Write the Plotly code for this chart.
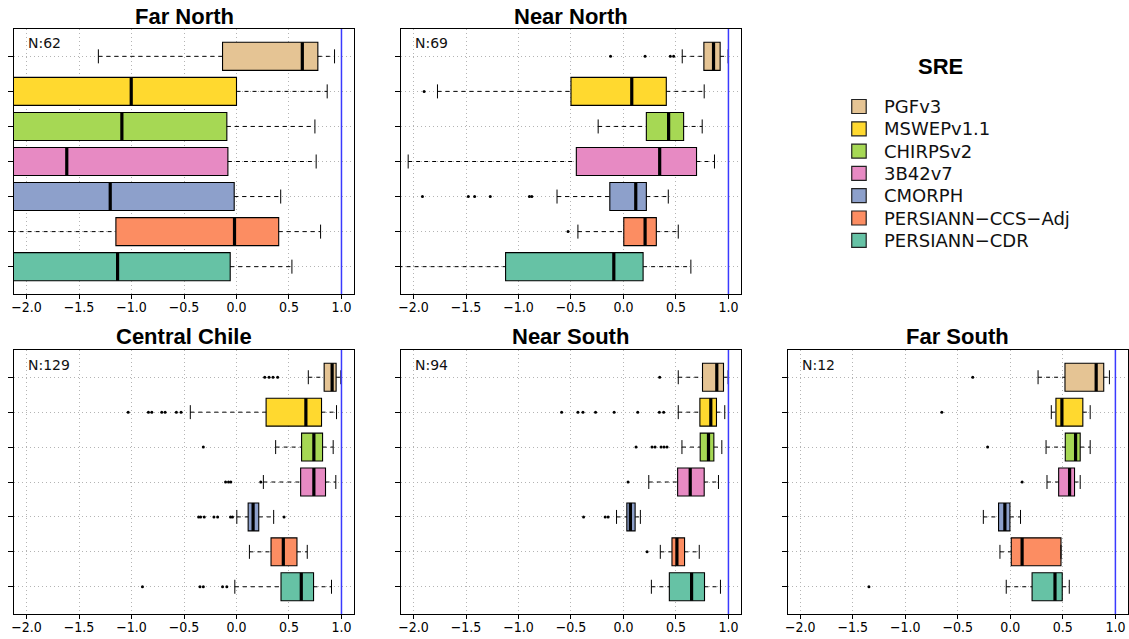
import plotly.graph_objects as go

products = ["PGFv3", "MSWEPv1.1", "CHIRPSv2", "3B42v7", "CMORPH",
            "PERSIANN\u2212CCS\u2212Adj", "PERSIANN\u2212CDR"]
colors = ["#E5C494", "#FFD92F", "#A6D854", "#E78AC3", "#8DA0CB", "#FC8D62", "#66C2A5"]
positions = [7, 6, 5, 4, 3, 2, 1]

regions = ["Far North", "Near North", "Central Chile", "Near South", "Far South"]
counts = [62, 69, 129, 94, 12]

# whisker low, q1, median, q3, whisker high per product (order as products)
far_north_lo = [-1.316, -3.0, -3.0, -3.0, -3.0, -2.6, -3.0]
far_north_q1 = [-0.133, -2.4, -2.4, -2.4, -2.4, -1.149, -2.4]
far_north_med = [0.627, -1.003, -1.092, -1.617, -1.203, -0.019, -1.133]
far_north_q3 = [0.775, 0.0, -0.092, -0.082, -0.022, 0.402, -0.060]
far_north_hi = [0.934, 0.864, 0.747, 0.759, 0.421, 0.801, 0.528]
far_north_out = [[], [], [], [], [], [], []]

near_north_lo = [0.560, -1.772, -0.241, -2.051, -0.633, -0.434, -2.6]
near_north_q1 = [0.766, -0.500, 0.218, -0.449, -0.130, 0.003, -1.123]
near_north_med = [0.858, 0.079, 0.430, 0.345, 0.117, 0.206, -0.092]
near_north_q3 = [0.921, 0.408, 0.573, 0.696, 0.218, 0.313, 0.187]
near_north_hi = [0.997, 0.769, 0.750, 0.867, 0.427, 0.522, 0.642]
near_north_out = [[-0.123, 0.206, 0.446, 0.478], [-1.899], [], [],
                  [-1.915, -1.478, -1.418, -1.269, -0.896, -0.873], [-0.528], []]

central_lo = [0.684, -0.440, 0.373, 0.256, 0.003, 0.123, -0.016]
central_q1 = [0.835, 0.282, 0.620, 0.611, 0.111, 0.329, 0.424]
central_med = [0.911, 0.661, 0.737, 0.737, 0.158, 0.446, 0.617]
central_q3 = [0.949, 0.810, 0.820, 0.848, 0.212, 0.576, 0.734]
central_hi = [0.994, 0.953, 0.921, 0.946, 0.354, 0.674, 0.905]
central_out = [[0.269, 0.310, 0.348, 0.392],
               [-1.032, -0.839, -0.807, -0.712, -0.680, -0.573, -0.528],
               [-0.316],
               [-0.104, -0.076, -0.054, 0.231],
               [-0.361, -0.342, -0.307, -0.215, -0.180, -0.057, -0.038, 0.453],
               [],
               [-0.896, -0.348, -0.316, -0.133, -0.092]]

near_south_lo = [0.522, 0.522, 0.557, 0.241, -0.066, 0.351, 0.266]
near_south_q1 = [0.753, 0.728, 0.731, 0.516, 0.032, 0.462, 0.437]
near_south_med = [0.889, 0.832, 0.810, 0.636, 0.066, 0.509, 0.649]
near_south_q3 = [0.953, 0.886, 0.861, 0.769, 0.111, 0.582, 0.772]
near_south_hi = [0.997, 0.965, 0.937, 0.905, 0.161, 0.722, 0.924]
near_south_out = [[0.345],
                  [-0.589, -0.434, -0.386, -0.266, -0.089, 0.136, 0.342, 0.383],
                  [0.120, 0.272, 0.301, 0.358, 0.386, 0.415],
                  [0.044],
                  [-0.380, -0.174, -0.146],
                  [0.225],
                  []]

far_south_lo = [0.264, 0.390, 0.340, 0.349, -0.257, -0.099, -0.039]
far_south_q1 = [0.520, 0.434, 0.523, 0.460, -0.112, 0.009, 0.207]
far_south_med = [0.817, 0.491, 0.621, 0.564, -0.052, 0.112, 0.425]
far_south_q3 = [0.889, 0.690, 0.665, 0.611, -0.004, 0.482, 0.494]
far_south_hi = [0.943, 0.760, 0.760, 0.665, 0.097, 0.482, 0.561]
far_south_out = [[-0.358], [-0.652], [-0.216], [0.112], [], [], [-1.346]]

stats = [
    (far_north_lo, far_north_q1, far_north_med, far_north_q3, far_north_hi, far_north_out),
    (near_north_lo, near_north_q1, near_north_med, near_north_q3, near_north_hi, near_north_out),
    (central_lo, central_q1, central_med, central_q3, central_hi, central_out),
    (near_south_lo, near_south_q1, near_south_med, near_south_q3, near_south_hi, near_south_out),
    (far_south_lo, far_south_q1, far_south_med, far_south_q3, far_south_hi, far_south_out),
]

x_ticks = [-2.0, -1.5, -1.0, -0.5, 0.0, 0.5, 1.0]
reference_value = 1.0

W, H = 1129, 639
# panel pixel boxes (left, right, top, bottom)
panels = [(11, 352, 29, 294), (399, 740, 29, 294),
          (11, 352, 350, 614), (399, 740, 350, 614), (786.7, 1128, 350, 614)]

BOX_H = 0.8
STAPLE = 0.4

fig = go.Figure()
tick_font = dict(family="DejaVu Sans Condensed, DejaVu Sans", size=14, color="black")
grid_style = dict(showgrid=True, gridcolor="#b4b4b4", griddash="1px,3px", gridwidth=1)

annotations = []
shapes = []
for i, (name, n, st, pb) in enumerate(zip(regions, counts, stats, panels)):
    ax = "" if i == 0 else str(i + 1)
    xa, ya = "x" + ax, "y" + ax
    lo, q1, med, q3, hi, out = st

    fig.add_trace(go.Bar(
        y=positions, x=[b - a for a, b in zip(q1, q3)], base=q1, orientation="h",
        width=BOX_H, marker=dict(color=colors, line=dict(color="black", width=1.1)),
        xaxis=xa, yaxis=ya, showlegend=False, hoverinfo="skip"))

    wx, wy, sx, sy, mx, my, ox, oy = [], [], [], [], [], [], [], []
    for p, l, a, m, b, h, o in zip(positions, lo, q1, med, q3, hi, out):
        wx += [l, a, None, b, h, None]
        wy += [p, p, None, p, p, None]
        sx += [l, l, None, h, h, None]
        sy += [p - STAPLE / 2, p + STAPLE / 2, None, p - STAPLE / 2, p + STAPLE / 2, None]
        mx += [m, m, None]
        my += [p - BOX_H / 2, p + BOX_H / 2, None]
        ox += o
        oy += [p] * len(o)

    fig.add_trace(go.Scatter(x=wx, y=wy, mode="lines", xaxis=xa, yaxis=ya,
                             line=dict(color="black", width=1, dash="4px,4px"),
                             showlegend=False, hoverinfo="skip"))
    fig.add_trace(go.Scatter(x=sx, y=sy, mode="lines", xaxis=xa, yaxis=ya,
                             line=dict(color="black", width=1),
                             showlegend=False, hoverinfo="skip"))
    fig.add_trace(go.Scatter(x=mx, y=my, mode="lines", xaxis=xa, yaxis=ya,
                             line=dict(color="black", width=3.2),
                             showlegend=False, hoverinfo="skip"))
    fig.add_trace(go.Scatter(x=ox, y=oy, mode="markers", xaxis=xa, yaxis=ya,
                             marker=dict(color="black", size=3),
                             showlegend=False, hoverinfo="skip"))

    l, r, t, b = pb
    fig.layout["xaxis" + ax] = dict(
        domain=[l / W, r / W], anchor=ya, range=[-2.12, 1.12],
        tickvals=x_ticks, tickformat=".1f", ticks="outside", ticklen=4,
        tickcolor="black", tickfont=tick_font, ticklabelstandoff=-4,
        showline=True, linecolor="black", linewidth=1.2, mirror=True,
        zeroline=False, fixedrange=True, **grid_style)
    fig.layout["yaxis" + ax] = dict(
        domain=[1 - b / H, 1 - t / H], anchor=xa, range=[0.22, 7.78],
        tickvals=positions, showticklabels=False, ticks="outside", ticklen=5,
        tickcolor="black",
        showline=True, linecolor="black", linewidth=1.2, mirror=True,
        zeroline=False, fixedrange=True, **grid_style)

    shapes.append(dict(type="line", xref=xa, yref=ya + " domain",
                       x0=reference_value, x1=reference_value, y0=0, y1=1,
                       line=dict(color="#3a3aff", width=1.5), layer="above"))

    annotations.append(dict(text="<b>%s</b>" % name, xref="paper", yref="paper",
                            x=(l + r) / 2 / W, y=1 - (t - 13) / H,
                            xanchor="center", yanchor="middle", showarrow=False,
                            font=dict(family="Liberation Sans, Arial", size=22, color="black")))
    annotations.append(dict(text="N:%d" % n, xref=xa + " domain", yref=ya + " domain",
                            x=12 / (r - l), y=1 - 14.5 / (b - t),
                            xanchor="left", yanchor="middle", showarrow=False,
                            font=dict(family="DejaVu Sans", size=14, color="#111111")))

# legend (drawn manually)
annotations.append(dict(text="<b>SRE</b>", xref="paper", yref="paper",
                        x=940 / W, y=1 - 67 / H, xanchor="center", yanchor="middle",
                        showarrow=False,
                        font=dict(family="Liberation Sans, Arial", size=22, color="black")))
leg_y0, leg_dy = 106.5, 22.3
for k, (pname, c) in enumerate(zip(products, colors)):
    yc = leg_y0 + k * leg_dy
    shapes.append(dict(type="rect", xref="paper", yref="paper",
                       x0=851 / W, x1=865.5 / W, y0=1 - (yc - 7) / H, y1=1 - (yc + 7) / H,
                       fillcolor=c, line=dict(color="#222222", width=1.2)))
    annotations.append(dict(text=pname, xref="paper", yref="paper",
                            x=881 / W, y=1 - yc / H, xanchor="left", yanchor="middle",
                            showarrow=False,
                            font=dict(family="DejaVu Sans", size=18, color="#111111")))

fig.update_layout(
    width=W, height=H, margin=dict(l=0, r=0, t=0, b=0),
    paper_bgcolor="white", plot_bgcolor="white",
    barmode="overlay", showlegend=False,
    annotations=annotations, shapes=shapes,
)

fig.write_html("out.html")
